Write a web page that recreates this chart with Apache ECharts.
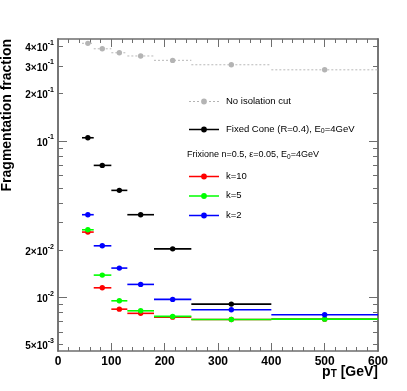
<!DOCTYPE html>
<html>
<head>
<meta charset="utf-8">
<script src="https://cdn.jsdelivr.net/npm/echarts@6/dist/echarts.min.js"></script>
<style>
html, body { margin: 0; padding: 0; background: #fff; }
#chart { width: 407px; height: 391px; }
</style>
</head>
<body>
<div id="chart"></div>
<script>
// pT bins [GeV]
const ptLow = [45, 67, 100, 130, 180, 250, 400];
const ptHigh = [67, 100, 130, 180, 250, 400, 600];
const ptCenter = [56, 83, 115, 155, 215, 325, 500];

// fragmentation fraction per bin
const noIsolation = [0.419, 0.387, 0.365, 0.348, 0.326, 0.306, 0.284];
const fixedCone = [0.1045, 0.0696, 0.0482, 0.0337, 0.0204, 0.00905];
const frixK10 = [0.0261, 0.0115, 0.0084, 0.0079, 0.00747, 0.00722, 0.00725];
const frixK5 = [0.0270, 0.01386, 0.0095, 0.0082, 0.00755, 0.00722, 0.00725];
const frixK2 = [0.0337, 0.02133, 0.01537, 0.01209, 0.0097, 0.00832, 0.00773];

// axis ticks / labels
const yLabelValues = [0.005, 0.01, 0.02, 0.1, 0.2, 0.3, 0.4];
const yMajorTicks = [0.01, 0.1];
const yMinorTicks = [0.005, 0.006, 0.007, 0.008, 0.009, 0.02, 0.03, 0.04, 0.05, 0.06, 0.07, 0.08, 0.09, 0.2, 0.3, 0.4];

const yMin = 0.00454, yMax = 0.4466;
const axisColor = '#6e6e6e';
const font = '"Liberation Sans", Arial, Helvetica, sans-serif';
const fixedName = 'Fixed Cone (R=0.4), E0=4GeV';

const chart = echarts.init(document.getElementById('chart'));

const toData = vals => vals.map((v, i) => [ptLow[i], ptHigh[i], v, ptCenter[i]]);

const errRenderer = (color, dashed) => (params, api) => {
  const lo = api.coord([api.value(0), api.value(2)]);
  const hi = api.coord([api.value(1), api.value(2)]);
  const c = api.coord([api.value(3), api.value(2)]);
  return {
    type: 'group',
    children: [
      { type: 'line', shape: { x1: lo[0], y1: lo[1], x2: hi[0], y2: hi[1] },
        style: { stroke: color, lineWidth: dashed ? 1.2 : 1.6, lineDash: dashed ? [2, 2] : null } },
      { type: 'circle', shape: { cx: c[0], cy: c[1], r: 2.7 }, style: { fill: dashed ? '#b4b4b4' : color } }
    ]
  };
};

const makeSeries = (name, vals, color, dashed) => ({
  name: name,
  type: 'custom',
  xAxisIndex: 0,
  yAxisIndex: 0,
  encode: { x: [0, 1, 3], y: 2 },
  itemStyle: { color: color },
  renderItem: errRenderer(color, dashed),
  data: toData(vals),
  animation: false,
  silent: true
});

// legend icons: line with a dot in the middle (30 x 6 box)
const solidIcon = 'path://M0,2.3H30V3.7H0Z M17.9,3A2.9,2.9,0,1,1,12.1,3A2.9,2.9,0,1,1,17.9,3Z';
let dashPath = 'path://';
for (let x = 0; x < 30; x += 4) {
  if (x > 10 && x < 18) continue;
  dashPath += 'M' + x + ',2.4H' + (x + 2) + 'V3.6H' + x + 'Z ';
}
const dashIcon = dashPath + 'M17.9,3A2.9,2.9,0,1,1,12.1,3A2.9,2.9,0,1,1,17.9,3Z';

const legendRich = {
  n: { fontSize: 9.5, lineHeight: 11, verticalAlign: 'top', color: '#000', fontFamily: font },
  s: { fontSize: 7, lineHeight: 7, padding: [7, 0, 0, 0], verticalAlign: 'bottom', color: '#000', fontFamily: font }
};
const legendFormatter = name => name === fixedName
  ? '{n|Fixed Cone (R=0.4), E}{s|0}{n|=4GeV}'
  : '{n|' + name + '}';

const xBase = {
  type: 'value', min: 0, max: 600, interval: 100,
  splitLine: { show: false },
  axisLine: { onZero: false, lineStyle: { color: axisColor, width: 1.5 } },
  axisTick: { inside: true, length: 8, lineStyle: { color: axisColor } },
  minorTick: { show: true, splitNumber: 5, length: 4, lineStyle: { color: axisColor } }
};
const yBase = {
  type: 'log', logBase: 10, min: yMin, max: yMax,
  splitLine: { show: false },
  minorTick: { show: false },
  axisLine: { show: true, onZero: false, lineStyle: { color: axisColor, width: 1.5 } }
};

const yLabel = v => {
  const e = Math.floor(Math.log10(v) + 1e-9);
  const m = Math.round(v / Math.pow(10, e));
  return (m === 1 ? '{b|10}' : '{b|' + m + '×10}') + '{s|' + e + '}';
};

const option = {
  animation: false,
  textStyle: { fontFamily: font },
  grid: { left: 58, right: 29, top: 39, bottom: 40, containLabel: false, outerBoundsMode: 'none' },
  title: {
    text: '{n|Frixione n=0.5, ε=0.05, E}{s|0}{n|=4GeV}',
    left: 187, top: 150, padding: 0,
    textStyle: {
      fontWeight: 'normal',
      rich: {
        n: { fontSize: 9, lineHeight: 11, verticalAlign: 'top', color: '#000', fontFamily: font },
        s: { fontSize: 6.5, lineHeight: 7, padding: [6, 0, 0, 0], verticalAlign: 'bottom', color: '#000', fontFamily: font }
      }
    }
  },
  legend: [
    {
      orient: 'vertical', left: 189, top: 96, padding: 0, itemGap: 15,
      itemWidth: 30, itemHeight: 6, selectedMode: false,
      data: [
        { name: 'No isolation cut', icon: dashIcon, itemStyle: { color: '#b4b4b4' } },
        { name: fixedName, icon: solidIcon, itemStyle: { color: '#000' } }
      ],
      formatter: legendFormatter,
      textStyle: { padding: [0, 0, 0, 2], rich: legendRich }
    },
    {
      orient: 'vertical', left: 189, top: 171, padding: 0, itemGap: 9.5,
      itemWidth: 30, itemHeight: 6, selectedMode: false,
      data: [
        { name: 'k=10', icon: solidIcon, itemStyle: { color: '#ff0000' } },
        { name: 'k=5', icon: solidIcon, itemStyle: { color: '#00ff00' } },
        { name: 'k=2', icon: solidIcon, itemStyle: { color: '#0000ff' } }
      ],
      formatter: legendFormatter,
      textStyle: { padding: [0, 0, 0, 2], rich: legendRich }
    }
  ],
  xAxis: [
    Object.assign({}, xBase, {
      position: 'bottom',
      axisLabel: { fontSize: 12, fontWeight: 'bold', color: '#000', margin: 5 },
      name: '{b|p}{s|T}{b| [GeV]}',
      nameLocation: 'end', nameGap: 0, nameMoveOverlap: false,
      nameTextStyle: {
        align: 'right', verticalAlign: 'top', padding: [14, 0, 0, 0],
        rich: {
          b: { fontSize: 14, fontWeight: 'bold', lineHeight: 14, verticalAlign: 'top', color: '#000', fontFamily: font },
          s: { fontSize: 10, fontWeight: 'bold', lineHeight: 10, padding: [7, 0, 0, 0], verticalAlign: 'bottom', color: '#000', fontFamily: font }
        }
      }
    }),
    Object.assign({}, xBase, { position: 'top', axisLabel: { show: false } })
  ],
  yAxis: [
    Object.assign({}, yBase, {
      position: 'left',
      axisTick: { inside: true, length: 9, customValues: yMajorTicks, lineStyle: { color: axisColor } },
      axisLabel: {
        customValues: yLabelValues, margin: 4, formatter: yLabel,
        rich: {
          b: { fontSize: 10, fontWeight: 'bold', lineHeight: 14, verticalAlign: 'bottom', color: '#000', fontFamily: font },
          s: { fontSize: 7, fontWeight: 'bold', lineHeight: 7, verticalAlign: 'top', color: '#000', fontFamily: font }
        }
      },
      name: 'Fragmentation fraction',
      nameLocation: 'end', nameGap: 0, nameRotate: 90, nameMoveOverlap: false,
      nameTextStyle: {
        fontSize: 14, fontWeight: 'bold', color: '#000',
        align: 'right', verticalAlign: 'bottom', padding: [0, 0, 44, 0]
      }
    }),
    Object.assign({}, yBase, {
      position: 'left',
      axisTick: { inside: true, length: 5, customValues: yMinorTicks, lineStyle: { color: axisColor } },
      axisLabel: { show: false }
    }),
    Object.assign({}, yBase, {
      position: 'right',
      axisTick: { inside: true, length: 9, customValues: yMajorTicks, lineStyle: { color: axisColor } },
      axisLabel: { show: false }
    }),
    Object.assign({}, yBase, {
      position: 'right',
      axisTick: { inside: true, length: 5, customValues: yMinorTicks, lineStyle: { color: axisColor } },
      axisLabel: { show: false }
    })
  ],
  series: [
    makeSeries('No isolation cut', noIsolation, '#c4c4c4', true),
    makeSeries(fixedName, fixedCone, '#000000', false),
    makeSeries('k=10', frixK10, '#ff0000', false),
    makeSeries('k=5', frixK5, '#00ff00', false),
    makeSeries('k=2', frixK2, '#0000ff', false)
  ]
};

chart.setOption(option);
</script>
</body>
</html>
